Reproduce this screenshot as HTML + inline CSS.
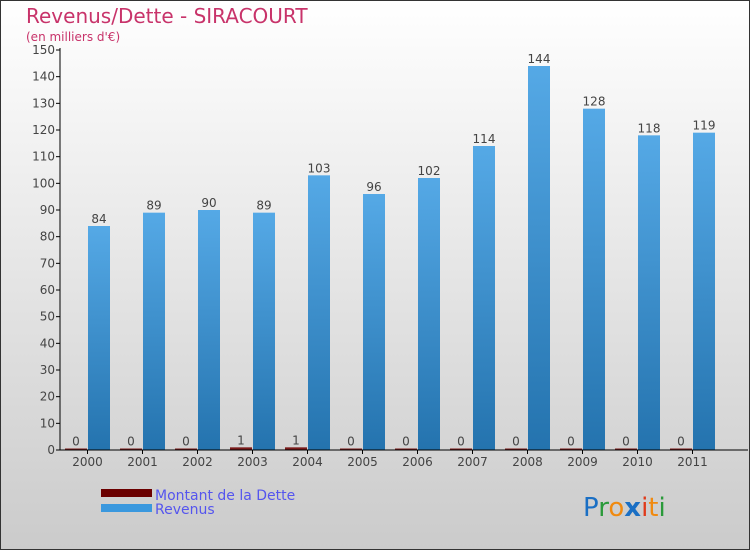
<!DOCTYPE html>
<html><head><meta charset="utf-8"><style>
body{margin:0;}
svg{display:block;font-family:"DejaVu Sans","Liberation Sans",sans-serif;}
</style></head><body>
<svg id="chart" width="750" height="550" xmlns="http://www.w3.org/2000/svg">
<defs>
<linearGradient id="bg" x1="0" y1="0" x2="0" y2="1"><stop offset="0" stop-color="#ffffff"/><stop offset="1" stop-color="#cbcbcb"/></linearGradient>
<linearGradient id="rev" x1="0" y1="0" x2="0" y2="1"><stop offset="0" stop-color="#55a9e6"/><stop offset="1" stop-color="#2473ae"/></linearGradient>
</defs>
<rect x="0.5" y="0.5" width="749" height="549" fill="url(#bg)" stroke="#333"/>
<text x="26" y="23" font-size="20" fill="#c8336a">Revenus/Dette - SIRACOURT</text>
<text x="26" y="41" font-size="12" fill="#c8336a">(en milliers d'€)</text>
<g id="plot"></g>
<g>
<rect x="101" y="489" width="51" height="8" fill="#6b0000"/>
<text x="155" y="500" font-size="14" fill="#5555ee">Montant de la Dette</text>
<rect x="101" y="504" width="51" height="8" fill="#3a98de"/>
<text x="155" y="514" font-size="14" fill="#5555ee">Revenus</text>
</g>
<g font-size="26" font-family="'DejaVu Sans',sans-serif">
<text x="583" y="516"><tspan fill="#1a6fc4">P</tspan><tspan fill="#2a9a3a">r</tspan><tspan fill="#f08a10">o</tspan><tspan fill="#1a6fc4" font-weight="bold">x</tspan><tspan fill="#e03a1a">i</tspan><tspan fill="#f08a10">t</tspan><tspan fill="#2a9a3a">i</tspan></text>
</g>
</svg>
<script>
const years=["2000","2001","2002","2003","2004","2005","2006","2007","2008","2009","2010","2011"];
const debt=[0,0,0,1,1,0,0,0,0,0,0,0];
const revenue=[84,89,90,89,103,96,102,114,144,128,118,119];
const yTicks=[0,10,20,30,40,50,60,70,80,90,100,110,120,130,140,150];
const NS="http://www.w3.org/2000/svg";
const g=document.getElementById('plot');
const x0=60,x1=720,y0=450,y1=50,yMax=150;
const gw=(x1-x0)/years.length;
const ys=v=>y0-(v/yMax)*(y0-y1);
function mk(t,a,txt){const e=document.createElementNS(NS,t);for(const k in a)e.setAttribute(k,a[k]);if(txt!==undefined)e.textContent=txt;g.appendChild(e);return e;}
yTicks.forEach(t=>{
const l=mk('line',{x1:x0-4,x2:x0,y1:ys(t),y2:ys(t),stroke:'#000'});


const tx=mk('text',{x:x0-5,y:ys(t)+4,'font-size':12,fill:'#444','text-anchor':'end'},t);


});
years.forEach((yr,i)=>{
const gx=x0+i*gw;const c=gx+27.5;
const dh=Math.max(y0-ys(debt[i]),1.5);
const d=mk('rect',{x:gx+5,y:y0-dh,width:22,height:dh,fill:'#7a1a1a'});


const dl=mk('text',{x:gx+16,y:y0-dh-3,'font-size':12,fill:'#444','text-anchor':'middle'},debt[i]);


const r=mk('rect',{x:gx+28,y:ys(revenue[i]),width:22,height:y0-ys(revenue[i]),fill:'url(#rev)'});


const rl=mk('text',{x:gx+39,y:ys(revenue[i])-3,'font-size':12,fill:'#444','text-anchor':'middle'},revenue[i]);


const tk=mk('line',{x1:c,x2:c,y1:y0,y2:y0+4,stroke:'#000'});


const xl=mk('text',{x:c,y:y0+16,'font-size':12,fill:'#444','text-anchor':'middle'},yr);


});
const ya=mk('line',{x1:x0,x2:x0,y1:y1-2,y2:y0,stroke:'#000'});


const xa=mk('line',{x1:x0,x2:x1+28,y1:y0,y2:y0,stroke:'#000'});


</script>
</body></html>
